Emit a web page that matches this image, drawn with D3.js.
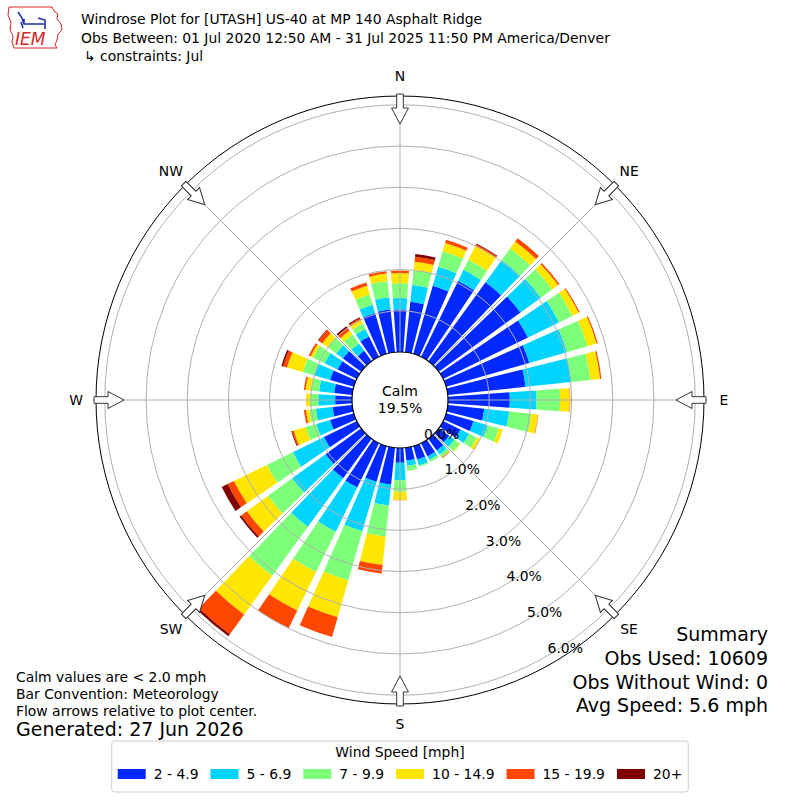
<!DOCTYPE html>
<html>
<head>
<meta charset="utf-8">
<script src="https://cdn.jsdelivr.net/npm/d3@7"></script>
<style>
body { margin: 0; background: #fff; }
text { font-family: "DejaVu Sans", sans-serif; fill: #000; }
</style>
</head>
<body>
<div class="windrose"></div>
<script>
// direction bins (deg, meteorology: where the wind comes from)
const directions = [0, 10, 20, 30, 40, 50, 60, 70, 80, 90, 100, 110, 120, 130, 140, 150, 160, 170,
                    180, 190, 200, 210, 220, 230, 240, 250, 260, 270, 280, 290, 300, 310, 320, 330, 340, 350];
const speedBins = ['2 - 4.9', '5 - 6.9', '7 - 9.9', '10 - 14.9', '15 - 19.9', '20+'];
const binColors = ['#0028ff', '#00d4ff', '#7dff7a', '#ffe600', '#ff4700', '#800000'];

// frequency [%] for each speed bin, one value per direction
const spd2to5 = [1.03, 1.23, 1.72, 2.05, 2.37, 2.45, 2.29, 2.10, 1.90, 1.50, 0.89, 0.69, 0.47, 0.31, 0.35, 0.36, 0.34, 0.31,
                 0.36, 0.90, 0.90, 1.20, 1.18, 1.07, 0.89, 0.60, 0.48, 0.41, 0.44, 0.60, 0.52, 0.55, 0.31, 0.55, 1.03, 1.05];
const spd5to7 = [0.28, 0.41, 0.48, 0.30, 0.66, 0.61, 0.84, 0.95, 1.12, 0.65, 0.61, 0.36, 0.23, 0.16, 0.12, 0.09, 0.15, 0.13,
                 0.42, 0.51, 1.25, 1.19, 1.46, 1.00, 0.84, 0.35, 0.41, 0.41, 0.37, 0.39, 0.35, 0.20, 0.22, 0.20, 0.21, 0.29];
const spd7to10 = [0.36, 0.37, 0.39, 0.27, 0.35, 0.34, 0.36, 0.52, 0.46, 0.57, 0.54, 0.28, 0.21, 0.16, 0.08, 0.06, 0.03, 0.12,
                  0.28, 0.76, 1.24, 1.09, 1.47, 0.73, 0.70, 0.27, 0.16, 0.20, 0.20, 0.30, 0.31, 0.26, 0.27, 0.15, 0.26, 0.40];
const spd10to15 = [0.25, 0.20, 0.21, 0.38, 0.21, 0.18, 0.17, 0.23, 0.24, 0.24, 0.16, 0.10, 0.09, 0.02, 0.01, 0.00, 0.00, 0.00,
                   0.20, 0.69, 0.93, 1.04, 1.16, 0.63, 0.89, 0.30, 0.08, 0.10, 0.13, 0.40, 0.07, 0.16, 0.12, 0.10, 0.22, 0.18];
const spd15to20 = [0.06, 0.12, 0.08, 0.04, 0.10, 0.04, 0.03, 0.03, 0.03, 0.01, 0.01, 0.00, 0.00, 0.00, 0.02, 0.00, 0.00, 0.00,
                   0.01, 0.21, 0.50, 0.48, 0.59, 0.17, 0.17, 0.04, 0.05, 0.00, 0.04, 0.10, 0.05, 0.11, 0.08, 0.04, 0.08, 0.06];
const spd20plus = [0.00, 0.07, 0.00, 0.02, 0.00, 0.00, 0.00, 0.00, 0.00, 0.00, 0.00, 0.00, 0.00, 0.00, 0.00, 0.00, 0.00, 0.00,
                   0.00, 0.00, 0.00, 0.00, 0.06, 0.05, 0.16, 0.02, 0.00, 0.00, 0.00, 0.04, 0.00, 0.02, 0.05, 0.03, 0.00, 0.00];

const ringTicks = [0, 1, 2, 3, 4, 5, 6];
const compass = ['N', 'NE', 'E', 'SE', 'S', 'SW', 'W', 'NW'];
const calmPct = '19.5%';

const titleLines = ['Windrose Plot for [UTASH] US-40 at MP 140 Asphalt Ridge',
                    'Obs Between: 01 Jul 2020 12:50 AM - 31 Jul 2025 11:50 PM America/Denver',
                    '\u21b3 constraints: Jul'];
const noteLines = ['Calm values are < 2.0 mph', 'Bar Convention: Meteorology', 'Flow arrows relative to plot center.'];
const summaryLines = ['Summary', 'Obs Used: 10609', 'Obs Without Wind: 0', 'Avg Speed: 5.6 mph'];

const width = 800;
const height = 800;
const cx = 400, cy = 400;
const outerR = 304;

const svg = d3.select('.windrose')
    .append('svg')
    .attr('width', width)
    .attr('height', height);

// table for the stack
const series = [spd2to5, spd5to7, spd7to10, spd10to15, spd15to20, spd20plus];
const table = directions.map((dir, i) => {
    const row = {dir: dir};
    speedBins.forEach((b, j) => { row[b] = series[j][i]; });
    return row;
});
const stacked = d3.stack().keys(speedBins)(table);

const rScale = d3.scaleLinear().domain([0, 6]).range([48, 295.2]);
const toRad = d => d * Math.PI / 180;
const angle = d3.scaleBand()
    .domain(directions)
    .range([toRad(-5), toRad(355)])
    .paddingInner(0.2)
    .paddingOuter(0.1);

const arc = d3.arc()
    .innerRadius(d => rScale(d[0]))
    .outerRadius(d => rScale(d[1]))
    .startAngle(d => angle(d.data.dir))
    .endAngle(d => angle(d.data.dir) + angle.bandwidth());

const plot = svg.append('g')
    .attr('transform', `translate(${cx},${cy})`);

// bars
plot.append('g')
    .selectAll('g')
    .data(stacked)
    .enter()
    .append('g')
        .attr('fill', (d, i) => binColors[i])
    .selectAll('path')
    .data(d => d.filter(s => s[1] - s[0] > 0))
    .enter()
    .append('path')
        .attr('d', arc);

// grid on top of the bars
const grid = plot.append('g')
    .attr('stroke', '#b0b0b0')
    .attr('stroke-width', 1)
    .attr('fill', 'none');
grid.selectAll('circle')
    .data(ringTicks.slice(1))
    .enter()
    .append('circle')
        .attr('r', d => rScale(d));
grid.selectAll('line')
    .data(d3.range(0, 360, 45))
    .enter()
    .append('line')
        .attr('x1', 0).attr('y1', 0)
        .attr('x2', d => outerR * Math.sin(toRad(d)))
        .attr('y2', d => -outerR * Math.cos(toRad(d)));

// outer frame
plot.append('circle')
    .attr('r', outerR)
    .attr('fill', 'none')
    .attr('stroke', '#000')
    .attr('stroke-width', 1);

// calm circle
plot.append('circle')
    .attr('r', rScale(0))
    .attr('fill', '#fff')
    .attr('stroke', '#000')
    .attr('stroke-width', 1.2);
plot.append('text')
    .attr('y', -4)
    .attr('text-anchor', 'middle')
    .attr('font-size', '14px')
    .text('Calm');
plot.append('text')
    .attr('y', 13)
    .attr('text-anchor', 'middle')
    .attr('font-size', '14px')
    .text(calmPct);

// flow arrows, pointing at the center
plot.append('g')
    .selectAll('path')
    .data(d3.range(0, 360, 45))
    .enter()
    .append('path')
        .attr('transform', d => `rotate(${d})`)
        .attr('d', 'M0,-276 L8.5,-292 L3.3,-292 L3.3,-306 L-3.3,-306 L-3.3,-292 L-8.5,-292 Z')
        .attr('fill', '#fff')
        .attr('stroke', '#333')
        .attr('stroke-width', 1);

// compass labels
plot.append('g')
    .selectAll('text')
    .data(compass)
    .enter()
    .append('text')
        .attr('x', (d, i) => 324 * Math.sin(toRad(i * 45)))
        .attr('y', (d, i) => -324 * Math.cos(toRad(i * 45)) + 5)
        .attr('text-anchor', 'middle')
        .attr('font-size', '13.9px')
        .text(d => d);

// percent labels along 150 deg
plot.append('g')
    .selectAll('text')
    .data(ringTicks)
    .enter()
    .append('text')
        .attr('x', d => rScale(d) * Math.sin(toRad(150)))
        .attr('y', d => -rScale(d) * Math.cos(toRad(150)) - 3)
        .attr('font-size', '13.9px')
        .text(d => d.toFixed(1) + '%');

// header
svg.append('g')
    .selectAll('text')
    .data(titleLines)
    .enter()
    .append('text')
        .attr('x', (d, i) => i == 2 ? 84 : 81)
        .attr('y', (d, i) => 24 + i * 18.5)
        .attr('font-size', '13.9px')
        .text(d => d);

// IEM logo (rough)
const logo = svg.append('g');
logo.append('path')
    .attr('d', 'M9,7 L52,7 L54,11 L58,14 L57,19 L61,24 L62,30 L58,34 L57,40 L55,45 L57,48 L14,48 L12,42 L13,36 L10,30 L11,22 L8,15 Z')
    .attr('fill', 'none')
    .attr('stroke', '#d62728')
    .attr('stroke-width', 1);
logo.append('path')
    .attr('d', 'M18,12 L22,18 L24,24 L44,24 M21,22 L23,28 M38,18 L45,20 L45,29 M24,24 L24,19')
    .attr('fill', 'none')
    .attr('stroke', '#1a2fb0')
    .attr('stroke-width', 1.6);
logo.append('text')
    .attr('x', 15)
    .attr('y', 45)
    .attr('font-family', '"Liberation Serif", serif')
    .attr('font-style', 'italic')
    .attr('font-size', '17px')
    .style('fill', '#d62728')
    .text('IEM');

// notes lower left
svg.append('g')
    .selectAll('text')
    .data(noteLines)
    .enter()
    .append('text')
        .attr('x', 16)
        .attr('y', (d, i) => 682 + i * 17)
        .attr('font-size', '13.9px')
        .text(d => d);
svg.append('text')
    .attr('x', 16)
    .attr('y', 736)
    .attr('font-size', '19px')
    .text('Generated: 27 Jun 2026');

// summary lower right
svg.append('g')
    .selectAll('text')
    .data(summaryLines)
    .enter()
    .append('text')
        .attr('x', 768)
        .attr('y', (d, i) => 641 + i * 23.8)
        .attr('text-anchor', 'end')
        .attr('font-size', '19px')
        .text(d => d);

// legend
const legend = svg.append('g');
const legendBox = legend.append('rect')
    .attr('y', 741)
    .attr('height', 51)
    .attr('rx', 3)
    .attr('fill', '#fff')
    .attr('stroke', '#d0d0d0')
    .attr('stroke-width', 1);
legend.append('text')
    .attr('x', 400)
    .attr('y', 757)
    .attr('text-anchor', 'middle')
    .attr('font-size', '13.9px')
    .text('Wind Speed [mph]');
const items = legend.selectAll('g.item')
    .data(speedBins)
    .enter()
    .append('g')
        .attr('class', 'item');
items.append('rect')
    .attr('y', 769)
    .attr('width', 28)
    .attr('height', 10)
    .attr('fill', (d, i) => binColors[i]);
items.append('text')
    .attr('y', 779)
    .attr('font-size', '13.9px')
    .text(d => d);
// lay the entries out side by side, centered
var x = 0;
const offsets = [];
items.each(function(d) {
    const w = this.querySelector('text').getComputedTextLength();
    offsets.push(x);
    x += 28 + 8 + w + 12;
});
const total = x - 12;
const left = 400 - total / 2;
items.attr('transform', (d, i) => `translate(${left + offsets[i]},0)`);
items.select('text').attr('x', 36);
legendBox.attr('x', left - 6).attr('width', total + 12);
</script>
</body>
</html>
